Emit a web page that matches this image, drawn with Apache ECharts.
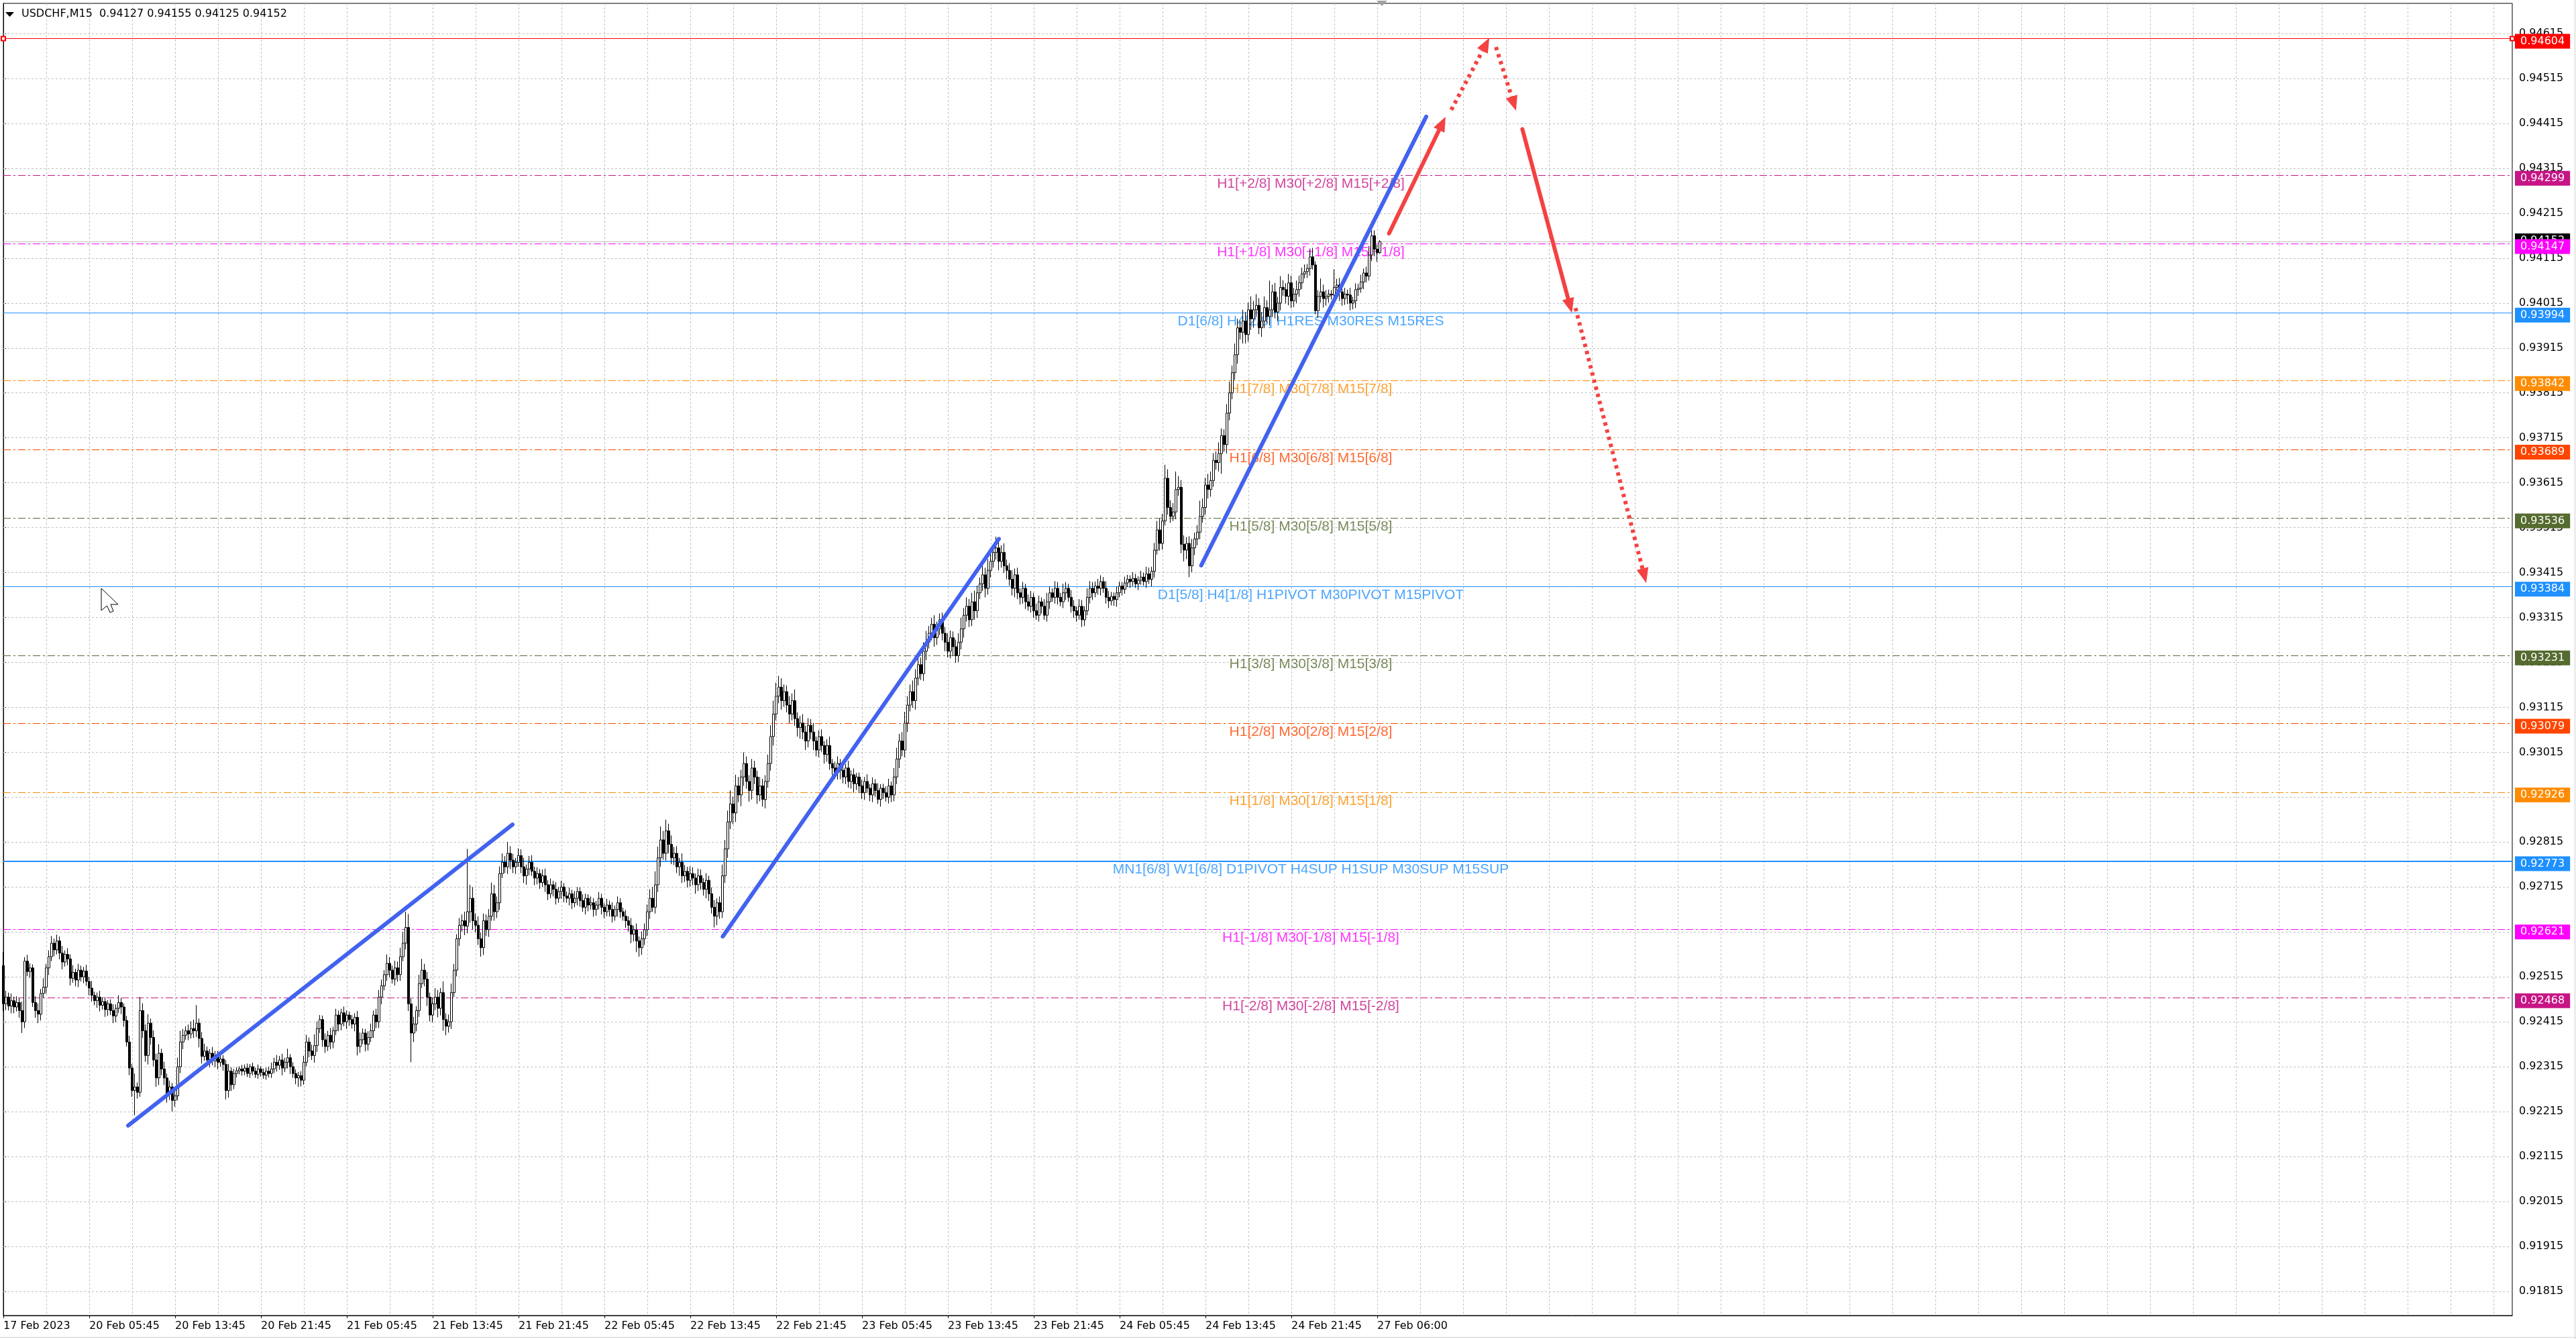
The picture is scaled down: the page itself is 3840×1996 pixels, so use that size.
<!DOCTYPE html>
<html><head><meta charset="utf-8">
<script src="https://cdn.jsdelivr.net/npm/echarts@6/dist/echarts.min.js"></script>
<style>html,body{margin:0;padding:0;background:#fff}#c{width:3840px;height:1996px}</style>
</head><body><div id="c"></div><script>
// ---------- DATA (prices in points, 1 point = 0.00001) ----------
const firstOpenPts = 92540;
const closePts = [
92455,92470,92450,92462,92448,92458,92440,92415,92550,92527,
92535,92458,92440,92432,92478,92492,92535,92560,92590,92575,
92595,92568,92548,92565,92555,92512,92525,92508,92530,92515,
92528,92505,92490,92474,92462,92470,92452,92460,92442,92455,
92440,92428,92445,92458,92448,92418,92370,92312,92262,92270,
92258,92440,92395,92340,92412,92380,92330,92290,92345,92310,
92290,92255,92270,92240,92250,92315,92370,92385,92395,92388,
92400,92395,92412,92378,92338,92350,92330,92345,92328,92340,
92325,92332,92320,92262,92305,92275,92300,92306,92310,92305,
92312,92300,92315,92305,92298,92310,92302,92296,92305,92300,
92310,92325,92318,92330,92312,92325,92335,92315,92300,92290,
92295,92285,92325,92370,92350,92340,92362,92400,92420,92375,
92360,92385,92370,92395,92430,92410,92435,92415,92430,92420,
92410,92425,92360,92375,92390,92365,92380,92395,92430,92415,
92470,92495,92520,92545,92530,92510,92535,92520,92560,92590,
92625,92455,92390,92410,92440,92500,92530,92510,92470,92430,
92455,92470,92445,92480,92420,92405,92415,92480,92530,92600,
92630,92640,92628,92660,92690,92640,92630,92600,92580,92640,
92620,92650,92700,92660,92680,92745,92770,92760,92790,92775,
92760,92770,92785,92760,92740,92755,92770,92750,92735,92745,
92725,92740,92720,92700,92720,92710,92690,92705,92715,92695,
92690,92700,92680,92690,92705,92685,92670,92690,92675,92680,
92665,92675,92690,92670,92660,92675,92665,92650,92665,92680,
92660,92650,92640,92630,92610,92620,92595,92580,92600,92620,
92660,92690,92670,92720,92780,92820,92790,92840,92810,92780,
92790,92760,92770,92740,92750,92730,92745,92735,92720,92740,
92725,92710,92730,92700,92670,92650,92680,92660,92740,92800,
92860,92900,92880,92940,92920,92960,92990,92950,92930,92980,
92960,92920,92940,92910,92950,92990,93050,93100,93140,93160,
93130,93150,93120,93100,93130,93090,93070,93080,93060,93040,
93075,93060,93040,93020,93050,93030,93010,93030,92990,92980,
92970,92990,92975,92960,92980,92950,92965,92945,92960,92940,
92925,92950,92935,92920,92945,92930,92910,92935,92925,92915,
92940,92920,92960,93000,93040,93020,93080,93120,93150,93130,
93180,93210,93190,93240,93260,93280,93300,93270,93290,93310,
93280,93260,93240,93270,93250,93230,93260,93290,93320,93340,
93310,93350,93330,93370,93390,93410,93380,93420,93440,93460,
93470,93440,93460,93430,93420,93400,93380,93410,93370,93360,
93380,93350,93340,93360,93330,93320,93350,93340,93320,93350,
93370,93360,93380,93360,93350,93370,93380,93360,93340,93330,
93320,93340,93310,93330,93360,93380,93370,93385,93380,93395,
93380,93360,93352,93362,93355,93370,93385,93378,93392,93400,
93395,93402,93390,93398,93405,93395,93412,93400,93418,93465,
93510,93480,93530,93625,93560,93540,93550,93600,93605,93478,
93465,93480,93430,93470,93490,93505,93540,93560,93610,93600,
93620,93665,93660,93680,93720,93700,93770,93815,93860,93900,
93960,93950,93975,93945,94000,93980,94000,94010,93960,93975,
94005,93985,94000,94040,93995,94015,94050,94045,94030,94060,
94020,94035,94045,94060,94080,94085,94092,94118,94100,93998,
94030,94040,94025,94030,94035,94033,94050,94055,94040,94025,
94035,94033,94015,94020,94045,94048,94062,94082,94075,94122,
94165,94135,94127,94152];
const wickUpPts = [
30,14,10,16,9,14,10,20,9,14,10,8,14,16,10,20,9,14,16,10,
14,10,16,9,14,10,16,8,14,10,9,14,10,16,8,10,14,9,10,8,
10,14,9,16,10,8,10,14,9,30,10,30,16,14,20,10,16,14,20,10,
16,10,14,9,16,20,25,14,10,14,16,20,40,10,14,16,10,9,14,10,
10,14,9,10,16,9,10,8,6,9,8,10,6,9,8,10,6,9,8,10,
14,10,16,9,14,10,20,8,10,9,8,10,14,16,10,14,25,16,10,9,
14,10,16,9,14,10,9,14,10,8,10,9,14,16,10,9,14,16,10,14,
16,14,10,20,14,10,16,14,20,25,35,30,14,16,10,20,25,14,16,10,
14,20,16,10,25,14,16,20,14,10,16,14,20,140,30,25,16,20,14,16,
14,16,25,20,14,16,20,14,25,16,14,10,16,14,20,10,14,16,10,14,
10,14,16,10,14,9,16,10,14,9,10,14,9,16,10,9,14,10,9,14,
10,9,14,10,9,14,10,16,9,14,10,9,14,10,16,9,14,10,16,14,
16,20,25,30,25,30,20,25,16,20,14,16,10,20,14,10,16,14,10,16,
14,10,16,10,14,16,10,14,25,20,25,30,16,25,20,16,25,16,14,20,
16,14,20,16,14,20,25,30,30,25,20,16,14,20,16,25,14,16,20,14,
16,14,20,10,14,16,10,14,20,10,14,16,10,14,9,16,10,14,9,10,
14,10,16,9,14,10,16,9,10,14,16,10,20,25,16,20,25,20,16,25,
20,25,16,20,25,16,14,20,16,14,16,14,20,16,14,16,20,25,16,20,
16,20,25,16,14,20,16,25,20,16,25,14,16,20,14,16,20,14,16,10,
14,10,16,14,10,16,14,10,16,20,14,10,16,14,10,20,14,10,16,14,
10,16,14,10,20,16,14,10,16,14,10,16,14,10,9,14,10,9,14,10,
9,14,10,9,14,10,16,14,10,16,20,25,16,30,20,16,20,40,25,16,
20,14,16,20,14,16,35,20,16,25,20,16,20,25,16,14,20,25,16,25,
20,16,25,20,16,30,20,25,16,20,25,16,65,16,20,14,25,16,14,20,
16,14,20,16,14,16,10,16,20,8,14,30,16,14,10,9,40,14,16,10,
14,10,16,9,14,10,16,10,14,20,12,12,10,3];
const wickDnPts = [
16,14,10,16,14,10,16,25,14,10,14,10,16,20,14,10,14,16,10,14,
10,14,16,10,14,16,10,14,16,10,14,10,16,14,10,16,14,10,16,14,
10,16,14,10,16,14,10,16,14,55,14,10,16,14,20,16,14,20,16,14,
16,20,14,25,14,10,14,16,10,14,10,16,14,20,16,10,14,16,10,14,
16,10,14,20,16,14,10,9,8,10,9,8,10,9,8,10,9,8,10,9,
10,9,14,10,16,9,14,16,10,14,20,14,10,9,14,10,16,14,10,16,
14,10,16,14,10,16,14,10,16,14,10,16,20,14,10,16,14,10,16,14,
14,16,10,14,16,10,14,16,14,10,14,16,65,20,16,14,10,16,20,14,
16,14,20,16,25,20,14,16,10,14,16,14,20,16,25,20,16,14,20,16,
14,16,10,20,14,16,10,14,16,20,14,16,10,14,16,20,14,10,16,14,
14,10,16,14,10,16,14,10,16,14,10,16,14,10,16,14,10,16,14,10,
16,14,10,16,14,10,16,14,10,16,14,10,16,14,20,16,25,20,16,14,
14,16,10,14,16,20,14,16,20,14,16,14,20,16,14,16,14,16,20,14,
16,14,20,16,14,25,20,16,14,16,20,16,25,20,16,25,20,16,25,20,
16,20,14,16,20,14,16,20,14,16,20,14,16,20,14,16,20,25,16,20,
14,16,20,14,16,14,20,16,14,16,14,16,20,14,16,14,16,20,14,16,
14,16,10,14,16,14,10,16,14,10,14,16,14,16,20,14,16,20,14,16,
20,16,14,16,20,14,16,20,16,14,16,20,14,16,20,16,14,16,20,14,
16,14,20,16,14,16,20,14,16,14,16,20,14,16,20,14,16,20,14,16,
14,16,10,14,16,10,14,16,10,14,16,10,14,16,10,14,16,10,14,16,
14,10,16,14,10,14,16,10,14,16,10,14,16,10,14,16,10,14,10,9,
14,10,9,14,10,9,14,10,16,14,10,16,14,10,16,14,10,16,14,20,
25,20,25,14,16,14,16,14,16,20,16,14,16,20,45,16,20,16,14,16,
20,16,25,20,16,25,20,16,14,20,16,14,20,16,14,20,16,14,16,20,
16,14,20,16,14,10,14,16,10,8,16,14,20,16,14,10,16,14,20,16,
14,20,16,14,16,14,10,16,14,10,14,16,20,2];
const timeLabels = ['17 Feb 2023','20 Feb 05:45','20 Feb 13:45','20 Feb 21:45','21 Feb 05:45','21 Feb 13:45',
  '21 Feb 21:45','22 Feb 05:45','22 Feb 13:45','22 Feb 21:45','23 Feb 05:45','23 Feb 13:45','23 Feb 21:45',
  '24 Feb 05:45','24 Feb 13:45','24 Feb 21:45','27 Feb 06:00'];
const yTicks = [0.91815,0.91915,0.92015,0.92115,0.92215,0.92315,0.92415,0.92515,0.92615,0.92715,
  0.92815,0.92915,0.93015,0.93115,0.93215,0.93315,0.93415,0.93515,0.93615,0.93715,0.93815,0.93915,
  0.94015,0.94115,0.94215,0.94315,0.94415,0.94515,0.94615];
const levelPrices = [0.94604,0.94299,0.94147,0.93994,0.93842,0.93689,0.93536,0.93384,0.93231,0.93079,0.92926,0.92773,0.92621,0.92468];
const levelNames = ['','H1[+2/8] M30[+2/8] M15[+2/8]','H1[+1/8] M30[+1/8] M15[+1/8]','D1[6/8] H4[2/8] H1RES M30RES M15RES',
  'H1[7/8] M30[7/8] M15[7/8]','H1[6/8] M30[6/8] M15[6/8]','H1[5/8] M30[5/8] M15[5/8]','D1[5/8] H4[1/8] H1PIVOT M30PIVOT M15PIVOT',
  'H1[3/8] M30[3/8] M15[3/8]','H1[2/8] M30[2/8] M15[2/8]','H1[1/8] M30[1/8] M15[1/8]','MN1[6/8] W1[6/8] D1PIVOT H4SUP H1SUP M30SUP M15SUP',
  'H1[-1/8] M30[-1/8] M15[-1/8]','H1[-2/8] M30[-2/8] M15[-2/8]'];
const levelTextBar = 487.25;
// trend lines & arrows: [barIndex1, price1, barIndex2, price2]
const blueTrends = [[46.5,0.92184,189.75,0.92854],[268.1,0.92605,371,0.93490],[446.4,0.93431,530.25,0.94430]];
const redArrows = [[516.4,0.94170,536.25,0.94415],[539.6,0.94445,552.5,0.94591],[556.25,0.94585,562.9,0.94459],
  [566.1,0.94402,583.85,0.94009],[585.9,0.94004,611.55,0.93408]];
const redArrowDotted = [false,true,true,false,true];
const symbolName = 'USDCHF,M15';

// ---------- STYLES ----------
const levelColors = ['#FF0000','#C71585','#FF00FF','#1E90FF','#FF8C00','#FF4500','#556B2F','#1E90FF','#556B2F','#FF4500','#FF8C00','#1E90FF','#FF00FF','#C71585'];
const levelSolid = [true,false,false,true,false,false,false,true,false,false,false,true,false,false];
const levelWidth = [1,1,1,1,1,1,1,1,1,1,1,2,1,1];
const DASHDOT = [11,4,3,4];
const FONT = 'DejaVu Sans';
const N_SLOTS = 936;
const Y_MIN = 0.9176111, Y_MAX = 0.9468226;

const P = v => v / 100000;
const candles = closePts.map((c, i) => {
  const o = i === 0 ? firstOpenPts : closePts[i - 1];
  const hi = Math.max(o, c) + (wickUpPts[i] ?? 0);
  const lo = Math.min(o, c) - (wickDnPts[i] ?? 0);
  return [P(o), P(c), P(lo), P(hi)];
});
const lastCandle = candles[candles.length - 1];
const cats = Array.from({length: N_SLOTS}, (_, i) => (i % 32 === 0 && i / 32 < timeLabels.length) ? timeLabels[i / 32] : '');
const labelIdx = i => i % 32 === 0 && i / 32 < timeLabels.length;
const hLine = (p, extra) => [Object.assign({ coord: [0, p] }, extra || {}), { coord: [N_SLOTS - 1, p] }];

const boxLabel = (bg) => ({
  show: true, position: 'end', distance: 4, offset: [0, 4],
  color: '#fff', backgroundColor: bg, padding: [3, 8, 3, 8],
  fontFamily: FONT, fontSize: 16, lineHeight: 16
});

const series = [];
// horizontal grid lines at the price ticks
series.push({
  type: 'line', xAxisIndex: 1, data: [], z: 1, silent: true,
  markLine: { silent: true, symbol: 'none', animation: false,
    label: { show: false },
    lineStyle: { color: '#c0c0c0', type: [3, 3], width: 1 },
    data: yTicks.map(v => hLine(v)) }
});
// current price line
series.push({
  type: 'line', xAxisIndex: 1, data: [], z: 2, silent: true,
  markLine: { silent: true, symbol: 'none', animation: false,
    lineStyle: { color: '#c0c0c0', type: 'solid', width: 1 },
    label: Object.assign(boxLabel('#000'), { offset: [0, -1], formatter: lastCandle[1].toFixed(5) }),
    data: [hLine(lastCandle[1])] }
});
// level lines
levelPrices.forEach((p, i) => {
  series.push({
    type: 'line', xAxisIndex: 1, data: [], z: 3, silent: true,
    markLine: { silent: true, animation: false,
      symbol: i === 0 ? ['emptyRect', 'emptyRect'] : 'none', symbolSize: 6,
      itemStyle: { color: levelColors[i] },
      lineStyle: { color: levelColors[i], width: levelWidth[i], type: levelSolid[i] ? 'solid' : DASHDOT },
      label: Object.assign(boxLabel(levelColors[i]), { formatter: p.toFixed(5) }),
      data: [hLine(p)] }
  });
});
// level texts
series.push({
  type: 'scatter', xAxisIndex: 1, z: 4, silent: true, symbolSize: 1,
  itemStyle: { color: 'rgba(0,0,0,0)' },
  data: levelPrices.map((p, i) => ({ value: [levelTextBar, p], name: levelNames[i],
    label: { show: levelNames[i] !== '', color: levelColors[i] } })),
  label: { show: true, position: 'bottom', distance: 2, formatter: pr => pr.name,
    fontFamily: 'Liberation Sans', fontSize: 21 }
});
// candles
series.push({
  type: 'candlestick', z: 5, data: candles, barWidth: 3, silent: true,
  itemStyle: { color: '#ffffff', color0: '#000000', borderColor: '#000000', borderColor0: '#000000', borderWidth: 1 }
});
// blue trend lines
blueTrends.forEach(t => {
  series.push({
    type: 'line', xAxisIndex: 1, z: 6, silent: true, symbol: 'none',
    lineStyle: { color: '#4262F0', width: 6, cap: 'round' },
    data: [[t[0], t[1]], [t[2], t[3]]]
  });
});
// red arrows
series.push({
  type: 'line', xAxisIndex: 1, data: [], z: 7, silent: true,
  markLine: { silent: true, animation: false, symbol: ['none', 'triangle'], symbolSize: [18, 22],
    label: { show: false },
    data: redArrows.map((a, i) => [
      { coord: [a[0], a[1]], lineStyle: { color: '#F44242', width: 6, type: redArrowDotted[i] ? [5, 6] : 'solid', cap: redArrowDotted[i] ? 'butt' : 'round' }, itemStyle: { color: '#F44242' } },
      { coord: [a[2], a[3]] }
    ]) }
});

const chart = echarts.init(document.getElementById('c'), null, { renderer: 'canvas', width: 3840, height: 1996 });
chart.setOption({
  animation: false,
  backgroundColor: '#ffffff',
  grid: { left: 5, right: 95, top: 5, bottom: 35, show: true, borderColor: '#000', borderWidth: 1, backgroundColor: 'transparent' },
  xAxis: [{
    type: 'category', data: cats, boundaryGap: false,
    axisLine: { show: true, lineStyle: { color: '#000', width: 1 } },
    axisTick: { show: true, interval: labelIdx, length: 4, lineStyle: { color: '#000' } },
    axisLabel: { show: true, interval: labelIdx, align: 'left', margin: 8, color: '#000', fontFamily: FONT, fontSize: 16, hideOverlap: false },
    splitLine: { show: true, interval: i => i % 16 === 0, lineStyle: { color: '#c0c0c0', type: [3, 3], width: 1 } }
  }, {
    type: 'value', min: 0, max: N_SLOTS - 1, show: false
  }],
  yAxis: {
    type: 'value', position: 'right', min: Y_MIN, max: Y_MAX, scale: true,
    axisLine: { show: true, lineStyle: { color: '#000', width: 1 } },
    axisTick: { show: true, customValues: yTicks, length: 4, lineStyle: { color: '#000' } },
    axisLabel: { show: true, customValues: yTicks, margin: 10, color: '#000', fontFamily: FONT, fontSize: 16,
      formatter: v => Number(v).toFixed(5) },
    splitLine: { show: false }
  },
  series: series,
  graphic: [
    { type: 'polygon', shape: { points: [[8, 18], [21, 18], [14.5, 25]] }, style: { fill: '#000' }, z: 10 },
    { type: 'text', left: 32, top: 13, z: 10,
      style: { text: symbolName + '  ' + [P(closePts[closePts.length - 2]), lastCandle[3], lastCandle[2], lastCandle[1]].map(v => v.toFixed(5)).join(' '),
        font: '16px "DejaVu Sans"', fill: '#000' } },
    { type: 'polygon', shape: { points: [[2052, 1], [2068, 1], [2060, 9]] }, style: { fill: '#a0a0a0' }, z: 10 },
    { type: 'polygon', z: 10, shape: { points: [[151, 877], [176, 901], [165, 901], [169, 911], [164, 913], [159.5, 903], [151, 910]] },
      style: { fill: '#fff', stroke: '#000', lineWidth: 1 } },
    { type: 'line', z: 10, shape: { x1: 3838.5, y1: 0, x2: 3838.5, y2: 1996 }, style: { stroke: '#d0d0d0', lineWidth: 1 } },
    { type: 'line', z: 10, shape: { x1: 0, y1: 1993.5, x2: 3840, y2: 1993.5 }, style: { stroke: '#d0d0d0', lineWidth: 1 } }
  ]
});
</script></body></html>
